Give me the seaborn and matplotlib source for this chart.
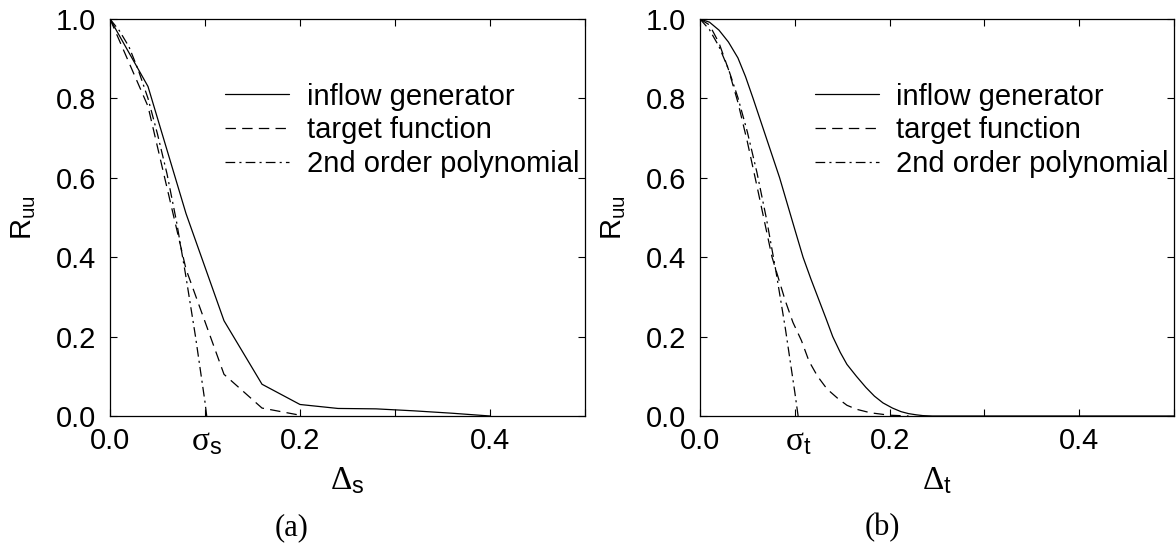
import numpy as np
import pandas as pd
import matplotlib
matplotlib.use("Agg")
import matplotlib.pyplot as plt
import seaborn as sns

# ---------------- data ----------------
# panel (a): spatial correlation
a_gen_x = [0.0, 0.04, 0.08, 0.12, 0.16, 0.20, 0.24, 0.28, 0.32, 0.36, 0.40]
a_gen_y = [1.0, 0.83, 0.51, 0.24, 0.08, 0.029, 0.019, 0.018, 0.013, 0.007, 0.0]
a_tgt_x = [0.0, 0.04, 0.08, 0.12, 0.16, 0.20]
a_tgt_y = [1.0, 0.78, 0.37, 0.105, 0.02, 0.002]
a_poly_x = [0.0, 0.01, 0.02, 0.03, 0.04, 0.05, 0.06, 0.07, 0.08, 0.09, 0.10, 0.1018]
a_poly_y = [1.0, 0.97, 0.93, 0.87, 0.80, 0.71, 0.61, 0.49, 0.35, 0.20, 0.035, 0.0]
sigma_s = 0.1018

# panel (b): temporal correlation
b_gen_x = [0.0, 0.01, 0.02, 0.03, 0.04, 0.048, 0.056, 0.063, 0.07, 0.077, 0.084,
           0.092, 0.10, 0.1087, 0.117, 0.125, 0.133, 0.14, 0.148, 0.155, 0.165,
           0.175, 0.184, 0.193, 0.203, 0.212, 0.22, 0.228, 0.235, 0.245, 0.50]
b_gen_y = [1.0, 0.992, 0.972, 0.942, 0.902, 0.855, 0.80, 0.75, 0.70, 0.65, 0.60,
           0.535, 0.47, 0.40, 0.345, 0.295, 0.245, 0.20, 0.16, 0.13, 0.10,
           0.072, 0.05, 0.033, 0.02, 0.011, 0.006, 0.003, 0.001, 0.0, 0.0]
b_tgt_x = [0.0, 0.01, 0.02, 0.03, 0.04, 0.05, 0.06, 0.068, 0.076, 0.083, 0.09,
           0.098, 0.107, 0.115, 0.124, 0.134, 0.145, 0.155, 0.165, 0.18, 0.20, 0.22]
b_tgt_y = [1.0, 0.985, 0.94, 0.873, 0.79, 0.69, 0.58, 0.49, 0.40, 0.345, 0.29,
           0.236, 0.19, 0.138, 0.10, 0.068, 0.045, 0.027, 0.017, 0.008, 0.002, 0.0]
b_poly_x = [0.0, 0.01, 0.02, 0.03, 0.04, 0.05, 0.06, 0.07, 0.08, 0.09, 0.10, 0.1035]
b_poly_y = [1.0, 0.973, 0.931, 0.874, 0.802, 0.715, 0.614, 0.498, 0.366, 0.221, 0.06, 0.0]
sigma_t = 0.1035

series_labels = ["inflow generator", "target function", "2nd order polynomial"]
y_ticks = [0.0, 0.2, 0.4, 0.6, 0.8, 1.0]
x_ticks = [0.0, 0.1, 0.2, 0.3, 0.4, 0.5]
x_ticklabels = ["0.0", "", "0.2", "", "0.4", ""]

# ---------------- style ----------------
sns.set_style("ticks")
plt.rcParams["font.family"] = ["Liberation Sans", "DejaVu Sans"]
plt.rcParams["mathtext.fontset"] = "custom"
plt.rcParams["mathtext.rm"] = "Liberation Serif"
plt.rcParams["mathtext.sf"] = "Liberation Sans"
plt.rcParams["mathtext.it"] = "Liberation Serif:italic"
plt.rcParams["lines.scale_dashes"] = False
plt.rcParams["axes.edgecolor"] = "black"
plt.rcParams["axes.linewidth"] = 0.9
plt.rcParams["text.color"] = "black"
plt.rcParams["axes.labelcolor"] = "black"
plt.rcParams["xtick.color"] = "black"
plt.rcParams["ytick.color"] = "black"
plt.rcParams["xtick.labelcolor"] = "black"
plt.rcParams["ytick.labelcolor"] = "black"

FS = 21
LW = 0.9
styles = ["-", (0, (7.5, 4.5)), (0, (7, 3, 1.5, 3))]

fig = plt.figure(figsize=(11.76, 5.47), dpi=100)
W, H = 1176, 547
ax1 = fig.add_axes([110 / W, 1 - 416 / H, 475 / W, 397 / H])
ax2 = fig.add_axes([700 / W, 1 - 416 / H, 474 / W, 397 / H])

panels = [
    (ax1, [(a_gen_x, a_gen_y), (a_tgt_x, a_tgt_y), (a_poly_x, a_poly_y)],
     sigma_s, "s"),
    (ax2, [(b_gen_x, b_gen_y), (b_tgt_x, b_tgt_y), (b_poly_x, b_poly_y)],
     sigma_t, "t"),
]

for ax, curves, sig, sub in panels:
    for (xs, ys), lab, ls in zip(curves, series_labels, styles):
        df = pd.DataFrame({"x": xs, "y": ys})
        sns.lineplot(data=df, x="x", y="y", ax=ax, color="black", lw=LW,
                     linestyle=ls, label=lab, sort=False, estimator=None)
    ax.set_xlim(0, 0.5)
    ax.set_ylim(0, 1.0)
    ax.set_yticks(y_ticks)
    ax.set_yticklabels([f"{v:.1f}" for v in y_ticks])
    ax.set_xticks(x_ticks)
    ax.set_xticklabels(x_ticklabels)
    ax.set_xticks([sig], minor=True)
    ax.set_xticklabels([r"$\mathrm{σ}_{\mathsf{%s}}$" % sub], minor=True)
    ax.tick_params(which="major", direction="in", top=True, right=True,
                   length=5, width=0.8, labelsize=FS, color="black",
                   labelcolor="black")
    ax.tick_params(axis="x", which="major", pad=8)
    ax.tick_params(axis="y", which="major", pad=10)
    ax.tick_params(axis="x", which="minor", length=0, labelsize=FS + 3, pad=7,
                   labelcolor="black")
    ax.set_xlabel(r"$\mathrm{Δ}_{\mathsf{%s}}$" % sub, fontsize=FS + 3,
                  labelpad=6, color="black")
    ax.set_ylabel(r"$\mathsf{R}_{\mathsf{uu}}$", fontsize=FS, labelpad=13,
                  color="black")
    for sp in ax.spines.values():
        sp.set_visible(True)
        sp.set_linewidth(0.9)
        sp.set_color("black")
    leg = ax.legend(loc="upper left", bbox_to_anchor=(0.242, 0.84), frameon=False,
                    fontsize=FS, handlelength=2.2, handletextpad=0.6,
                    labelspacing=0.2, borderaxespad=0, borderpad=0)
    for t in leg.get_texts():
        t.set_color("black")

fig.text(292 / W, 1 - 528 / H, "(a)", ha="center", va="center", color="black",
         fontsize=FS + 1, family=["Liberation Serif", "DejaVu Serif"])
fig.text(882 / W, 1 - 528 / H, "(b)", ha="center", va="center", color="black",
         fontsize=FS + 1, family=["Liberation Serif", "DejaVu Serif"])

fig.savefig("out.png", dpi=100, facecolor="white")
